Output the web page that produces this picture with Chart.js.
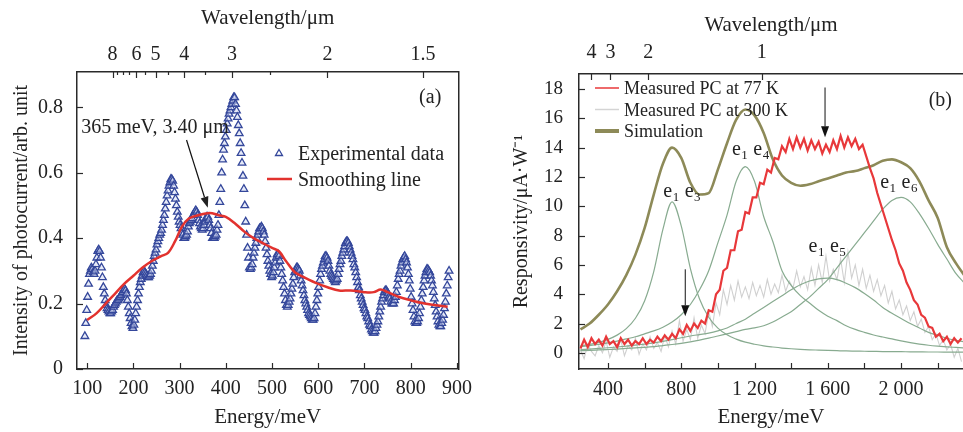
<!DOCTYPE html>
<html>
<head>
<meta charset="utf-8">
<script src="https://cdn.jsdelivr.net/npm/chart.js@4.4.1/dist/chart.umd.min.js"></script>
<style>
html, body { margin: 0; padding: 0; background: #fff; }
#wrap { position: relative; width: 963px; height: 432px; overflow: hidden; }
canvas { position: absolute; top: 0; }
#chartA { left: 0; }
#chartB { left: 480px; }
</style>
</head>
<body>
<div id="wrap">
  <canvas id="chartA" width="480" height="432"></canvas>
  <canvas id="chartB" width="483" height="432"></canvas>
</div>
<script>
// ---- panel (a) data: measured points every 2 meV ----
const expEnergy = [
  95,97,99,101,103,105,107,109,111,113, 115,117,119,121,123,125,127,129,131,133,
  135,137,139,141,143,145,147,149,151,153, 155,157,159,161,163,165,167,169,171,173,
  175,177,179,181,183,185,187,189,191,193, 195,197,199,201,203,205,207,209,211,213,
  215,217,219,221,223,225,227,229,231,233, 235,237,239,241,243,245,247,249,251,253,
  255,257,259,261,263,265,267,269,271,273, 275,277,279,281,283,285,287,289,291,293,
  295,297,299,301,303,305,307,309,311,313, 315,317,319,321,323,325,327,329,331,333,
  335,337,339,341,343,345,347,349,351,353, 355,357,359,361,363,365,367,369,371,373,
  375,377,379,381,383,385,387,389,391,393, 395,397,399,401,403,405,407,409,411,413,
  415,417,419,421,423,425,427,429,431,433, 435,437,439,441,443,445,447,449,451,453,
  455,457,459,461,463,465,467,469,471,473, 475,477,479,481,483,485,487,489,491,493,
  495,497,499,501,503,505,507,509,511,513, 515,517,519,521,523,525,527,529,531,533,
  535,537,539,541,543,545,547,549,551,553, 555,557,559,561,563,565,567,569,571,573,
  575,577,579,581,583,585,587,589,591,593, 595,597,599,601,603,605,607,609,611,613,
  615,617,619,621,623,625,627,629,631,633, 635,637,639,641,643,645,647,649,651,653,
  655,657,659,661,663,665,667,669,671,673, 675,677,679,681,683,685,687,689,691,693,
  695,697,699,701,703,705,707,709,711,713, 715,717,719,721,723,725,727,729,731,733,
  735,737,739,741,743,745,747,749,751,753, 755,757,759,761,763,765,767,769,771,773,
  775,777,779,781,783,785,787,789,791,793, 795,797,799,801,803,805,807,809,811,813,
  815,817,819,821,823,825,827,829,831,833, 835,837,839,841,843,845,847,849,851,853,
  855,857,859,861,863,865,867,869,871,873, 875,877,879,881,883];
const expIntensity = [
  0.10,0.14,0.18,0.22,0.26,0.29,0.30,0.31,0.305,0.295, 0.29,0.30,0.32,0.34,0.36,0.365,0.36,0.34,0.31,0.28,
  0.25,0.23,0.21,0.195,0.185,0.18,0.175,0.17,0.17,0.175, 0.18,0.19,0.195,0.20,0.205,0.21,0.21,0.215,0.22,0.225,
  0.23,0.235,0.24,0.245,0.24,0.23,0.21,0.19,0.17,0.155, 0.14,0.13,0.125,0.135,0.15,0.17,0.19,0.21,0.23,0.25,
  0.265,0.275,0.285,0.295,0.30,0.295,0.29,0.285,0.28,0.28, 0.285,0.29,0.30,0.315,0.33,0.345,0.355,0.365,0.38,0.39,
  0.40,0.41,0.415,0.425,0.44,0.455,0.47,0.49,0.51,0.53, 0.545,0.56,0.57,0.58,0.58,0.575,0.56,0.54,0.52,0.50,
  0.48,0.465,0.45,0.44,0.43,0.415,0.41,0.40,0.40,0.405, 0.41,0.42,0.435,0.445,0.45,0.455,0.46,0.47,0.47,0.48,
  0.485,0.48,0.47,0.455,0.445,0.435,0.43,0.425,0.43,0.44, 0.45,0.46,0.465,0.465,0.455,0.44,0.43,0.415,0.40,0.40,
  0.40,0.405,0.41,0.425,0.44,0.47,0.51,0.55,0.60,0.64, 0.67,0.69,0.71,0.73,0.75,0.765,0.78,0.79,0.80,0.81,
  0.82,0.83,0.83,0.81,0.79,0.77,0.745,0.72,0.69,0.66, 0.63,0.59,0.55,0.50,0.45,0.41,0.37,0.34,0.31,0.305,
  0.31,0.32,0.34,0.355,0.37,0.385,0.40,0.41,0.42,0.43, 0.43,0.435,0.43,0.42,0.41,0.39,0.37,0.35,0.33,0.315,
  0.30,0.29,0.28,0.285,0.295,0.31,0.325,0.34,0.35,0.35, 0.345,0.33,0.31,0.29,0.27,0.25,0.23,0.21,0.195,0.19,
  0.195,0.205,0.215,0.23,0.245,0.26,0.28,0.295,0.30,0.31, 0.31,0.305,0.30,0.285,0.27,0.255,0.24,0.225,0.21,0.20,
  0.19,0.18,0.17,0.165,0.16,0.155,0.15,0.15,0.155,0.17, 0.19,0.21,0.23,0.25,0.27,0.29,0.305,0.315,0.325,0.335,
  0.345,0.345,0.34,0.33,0.315,0.30,0.29,0.285,0.28,0.275, 0.27,0.265,0.27,0.275,0.29,0.305,0.32,0.33,0.345,0.355,
  0.365,0.375,0.385,0.39,0.39,0.385,0.375,0.365,0.355,0.345, 0.335,0.32,0.31,0.295,0.28,0.265,0.25,0.24,0.225,0.215,
  0.205,0.195,0.185,0.18,0.17,0.16,0.155,0.145,0.135,0.13, 0.12,0.115,0.11,0.11,0.115,0.125,0.135,0.145,0.16,0.175,
  0.19,0.205,0.215,0.225,0.235,0.24,0.24,0.235,0.23,0.22, 0.215,0.205,0.20,0.20,0.20,0.21,0.22,0.235,0.255,0.275,
  0.29,0.30,0.315,0.325,0.335,0.34,0.345,0.335,0.325,0.31, 0.29,0.27,0.245,0.22,0.20,0.18,0.16,0.145,0.14,0.14,
  0.145,0.155,0.17,0.19,0.21,0.23,0.25,0.27,0.285,0.295, 0.305,0.305,0.30,0.295,0.285,0.27,0.255,0.235,0.215,0.195,
  0.175,0.16,0.145,0.135,0.13,0.13,0.14,0.15,0.165,0.185, 0.205,0.23,0.255,0.28,0.30];
const smoothEnergy = [100,120,140,160,180,200,220,240,260,275,290,305,320,340,365,385,400,420,440,460,
  480,500,515,530,550,570,600,620,645,670,700,720,735,750,775,800,830,855,880];
const smoothIntensity = [0.15,0.17,0.20,0.23,0.26,0.285,0.31,0.33,0.345,0.355,0.39,0.435,0.46,0.47,0.477,0.47,0.465,0.445,0.42,0.40,
  0.385,0.37,0.36,0.33,0.295,0.28,0.26,0.25,0.24,0.24,0.235,0.235,0.243,0.235,0.22,0.21,0.20,0.195,0.19];
const energyTicksA = [100,200,300,400,500,600,700,800,900];
const intensityTicks = [0,0.2,0.4,0.6,0.8];
const wavelengthTicksA = [8,7.5,7,6.5,6,5.5,5,4.5,4,3.5,3,2.5,2,1.5];
const wavelengthLabelsA = [8,6,5,4,3,2,1.5];

// ---- panel (b) data ----
const pcEnergy = [250,270,290,310,330,350,370,390,410,430,450,470,490,510,530,550,570,590,610,630,
  650,670,690,710,730,750,770,790,810,830,850,870,890,910,930,950,970,990,1010,1030,
  1050,1070,1090,1110,1130,1150,1170,1190,1210,1230,1250,1270,1290,1310,1330,1350,1370,1390,1410,1430,
  1450,1470,1490,1510,1530,1550,1570,1590,1610,1630,1650,1670,1690,1710,1730,1750,1770,1790,1810,1830,
  1850,1870,1890,1910,1930,1950,1970,1990,2010,2030,2050,2070,2090,2110,2130,2150,2170,2190,2210,2230,
  2250,2270,2290,2310,2330];
const pc77 = [0.3,0.9,0.4,1.0,0.6,0.9,0.5,1.1,0.6,0.8,0.4,1.0,0.6,0.9,0.5,0.8,0.6,1.0,0.6,0.9,
  0.7,1.1,0.8,1.2,0.9,1.3,1.0,1.6,1.3,1.9,1.5,2.0,1.7,2.2,2.0,2.9,2.8,4.0,4.3,5.6,
  5.8,7.0,7.0,8.3,8.4,9.6,9.5,10.6,10.6,11.6,11.5,12.5,12.3,13.3,13.2,14.1,13.7,14.6,13.9,14.7,
  14.0,14.6,13.8,14.5,13.9,14.4,13.6,14.2,13.7,14.5,13.9,14.8,14.0,14.7,14.1,14.6,13.9,14.2,13.4,12.6,
  11.9,10.9,10.1,9.3,8.5,7.7,7.0,6.1,5.6,4.8,4.3,3.6,3.3,2.6,2.4,1.8,1.7,1.1,1.3,0.8,
  1.1,0.6,1.0,0.7,1.0];
const pc300 = [0.2,-0.4,0.6,0.1,-0.2,0.5,0.0,0.8,-0.3,0.4,0.1,0.9,-0.2,0.5,0.2,1.0,-0.1,0.6,0.2,1.1,
  0.3,0.7,0.1,1.2,0.4,1.5,0.6,2.2,0.8,1.6,0.9,2.4,1.0,1.9,1.3,2.8,1.8,3.4,2.6,4.3,
  3.3,4.6,3.6,4.9,3.8,4.5,3.7,4.8,3.9,4.6,3.8,5.0,4.0,4.7,4.1,5.3,4.2,4.9,4.4,5.6,
  4.5,5.2,4.3,5.8,4.6,6.0,4.8,6.6,4.9,5.7,5.0,6.4,4.8,6.9,5.1,6.0,4.6,5.7,4.4,5.3,
  4.2,5.0,3.9,4.6,3.4,4.2,3.0,3.6,2.6,3.2,2.2,2.8,1.8,2.3,1.4,1.8,0.9,1.3,0.5,0.9,
  0.2,0.6,-0.3,0.3,-0.6];
const simEnergy = [250,300,350,400,450,500,550,600,650,700,750,800,850,900,950,1000,1050,1100,1150,1200,
  1250,1300,1350,1400,1450,1500,1550,1600,1650,1700,1750,1800,1850,1900,1950,2000,2050,2100,2150,2200,
  2250,2300,2350];
const simulation = [1.6,2.0,2.6,3.3,4.2,5.3,6.7,8.5,10.8,12.9,14.0,13.3,11.6,10.8,10.9,12.5,14.3,15.9,16.6,16.2,
  15.0,13.2,12.1,11.6,11.4,11.5,11.7,11.9,12.1,12.3,12.4,12.6,12.8,13.1,13.2,13.0,12.6,11.7,10.4,9.2,
  7.2,6.1,5.2];
const e1e3 = [0.47,0.58,0.72,0.92,1.21,1.65,2.36,3.54,5.54,8.42,10.3,8.66,5.75,3.67,2.43,1.69,1.23,0.94,0.73,0.59,
  0.48,0.40,0.33,0.28,0.24,0.21,0.19,0.17,0.15,0.13,0.12,0.11,0.10,0.09,0.085,0.08,0.07,0.065,0.06,0.06,
  0.055,0.05,0.045];
const e1e4 = [0.42,0.5,0.58,0.68,0.8,0.95,1.1,1.3,1.5,1.75,2.1,2.6,3.3,4.3,5.6,7.5,9.4,11.7,12.7,11.7,
  9.3,7.6,5.6,4.6,3.9,3.4,2.9,2.5,2.2,1.85,1.6,1.4,1.22,1.08,0.95,0.82,0.7,0.6,0.52,0.46,
  0.41,0.37,0.33];
const e1e5 = [0.22,0.26,0.3,0.35,0.4,0.46,0.53,0.6,0.68,0.78,0.9,1.03,1.15,1.25,1.35,1.5,1.7,2.0,2.3,2.7,
  3.1,3.5,3.9,4.3,4.65,4.9,5.05,5.1,5.0,4.75,4.45,4.05,3.6,3.1,2.7,2.35,2.0,1.7,1.4,1.2,
  1.0,0.85,0.75];
const e1e6 = [0.15,0.17,0.2,0.23,0.26,0.3,0.34,0.38,0.43,0.5,0.57,0.65,0.75,0.87,1.0,1.15,1.3,1.45,1.6,1.7,
  1.85,2.1,2.45,2.8,3.3,3.8,4.4,5.0,5.8,6.6,7.4,8.2,9.0,9.8,10.4,10.6,10.3,9.5,8.5,7.4,
  6.4,5.4,4.7];
const energyTicksB = [400,600,800,1000,1200,1400,1600,1800,2000,2200];
const respTicks = [0,2,4,6,8,10,12,14,16,18];
const wavelengthTicksB = [4,3,2,1];

const serif = '"Liberation Serif", "Times New Roman", serif';
const textColor = '#222';
const axisColor = '#2a2a2a';
const hc = 1239.84; // meV * um

function pts(xs, ys) { return xs.map((x, i) => ({ x: x, y: ys[i] })); }
function setTicks(vals) { return scale => { scale.ticks = vals.map(v => ({ value: v })); }; }
function fmtThousands(v) {
  if (v < 1000) return String(v);
  return Math.floor(v / 1000) + ' ' + String(v % 1000).padStart(3, '0');
}
const axisBorder = { display: true, color: axisColor, width: 1.5 };

// inward tick marks, drawn on top of everything
function drawTicks(chart) {
  const ctx = chart.ctx;
  const a = chart.chartArea;
  ctx.save();
  ctx.globalAlpha = 1;
  ctx.setLineDash([]);
  ctx.strokeStyle = axisColor;
  ctx.lineWidth = 1.2;
  ['x', 'x2', 'y'].forEach(id => {
    const s = chart.scales[id];
    const major = s.options.tickLen || 6;
    const minor = s.options.minorLen || major;
    s.ticks.forEach(t => {
      const len = t.label === '' ? minor : major;
      const p = Math.round(s.getPixelForValue(t.value)) + 0.5;
      ctx.beginPath();
      if (id === 'x') { ctx.moveTo(p, a.bottom); ctx.lineTo(p, a.bottom - len); }
      else if (id === 'x2') { ctx.moveTo(p, a.top); ctx.lineTo(p, a.top + len); }
      else { ctx.moveTo(a.left, p); ctx.lineTo(a.left + len, p); }
      ctx.stroke();
    });
  });
  ctx.restore();
}

function arrow(ctx, x1, y1, x2, y2) {
  const ang = Math.atan2(y2 - y1, x2 - x1);
  const L = 11, W = 4;
  ctx.beginPath();
  ctx.moveTo(x1, y1);
  ctx.lineTo(x2 - L * Math.cos(ang), y2 - L * Math.sin(ang));
  ctx.stroke();
  ctx.beginPath();
  ctx.moveTo(x2, y2);
  ctx.lineTo(x2 - L * Math.cos(ang) + W * Math.sin(ang), y2 - L * Math.sin(ang) - W * Math.cos(ang));
  ctx.lineTo(x2 - L * Math.cos(ang) - W * Math.sin(ang), y2 - L * Math.sin(ang) + W * Math.cos(ang));
  ctx.closePath();
  ctx.fill();
}

function eLabel(ctx, x, y, s1, s2) {
  let cx = x;
  [['e', s1], ['e', s2]].forEach((pair, k) => {
    ctx.font = '20px ' + serif;
    ctx.fillText(pair[0], cx, y);
    cx += ctx.measureText(pair[0]).width;
    ctx.font = '13px ' + serif;
    ctx.fillText(pair[1], cx + 0.5, y + 4);
    cx += ctx.measureText(pair[1]).width + (k === 0 ? 6 : 0);
  });
}

const annotA = {
  id: 'annotA',
  afterDraw(chart) {
    const { ctx, chartArea: a, scales: { x, y } } = chart;
    ctx.save();
    ctx.fillStyle = textColor;
    ctx.strokeStyle = '#111';
    ctx.lineWidth = 1.2;
    ctx.textBaseline = 'alphabetic';
    ctx.font = '20px ' + serif;
    ctx.fillText('365 meV, 3.40 \u03bcm', x.getPixelForValue(87), y.getPixelForValue(0.722));
    arrow(ctx, x.getPixelForValue(315), y.getPixelForValue(0.70), x.getPixelForValue(361), y.getPixelForValue(0.493));
    ctx.textAlign = 'right';
    ctx.fillText('(a)', a.right - 17, a.top + 31);
    ctx.textAlign = 'left';
    // legend
    const lx = a.left + 202, ly = a.top + 81;
    ctx.strokeStyle = '#34479b';
    ctx.lineWidth = 1.3;
    ctx.beginPath();
    ctx.moveTo(lx, ly - 3.5); ctx.lineTo(lx + 3.5, ly + 2.5); ctx.lineTo(lx - 3.5, ly + 2.5); ctx.closePath();
    ctx.stroke();
    ctx.fillText('Experimental data', a.left + 221, ly + 7);
    ctx.strokeStyle = '#e2322e';
    ctx.lineWidth = 2.5;
    ctx.beginPath();
    ctx.moveTo(a.left + 190, ly + 26); ctx.lineTo(a.left + 215, ly + 26);
    ctx.stroke();
    ctx.fillText('Smoothing line', a.left + 221, ly + 33);
    ctx.restore();
    drawTicks(chart);
  }
};

const annotB = {
  id: 'annotB',
  afterDraw(chart) {
    const { ctx, chartArea: a, scales: { x, y } } = chart;
    ctx.save();
    ctx.fillStyle = textColor;
    ctx.textBaseline = 'alphabetic';
    eLabel(ctx, x.getPixelForValue(702), y.getPixelForValue(10.63), '1', '3');
    eLabel(ctx, x.getPixelForValue(1077), y.getPixelForValue(13.5), '1', '4');
    eLabel(ctx, x.getPixelForValue(1495), y.getPixelForValue(6.87), '1', '5');
    eLabel(ctx, x.getPixelForValue(1886), y.getPixelForValue(11.24), '1', '6');
    ctx.strokeStyle = '#111';
    ctx.fillStyle = '#111';
    ctx.lineWidth = 1;
    arrow(ctx, x.getPixelForValue(1585), y.getPixelForValue(18.1), x.getPixelForValue(1585), y.getPixelForValue(14.7));
    arrow(ctx, x.getPixelForValue(822), y.getPixelForValue(5.7), x.getPixelForValue(822), y.getPixelForValue(2.5));
    ctx.fillStyle = textColor;
    ctx.font = '20px ' + serif;
    ctx.textAlign = 'right';
    ctx.fillText('(b)', a.right - 11, a.top + 32);
    ctx.textAlign = 'left';
    // legend
    const items = [
      ['Measured PC at 77 K', '#e8383a', 1.5],
      ['Measured PC at 300 K', '#d4d4d4', 1.5],
      ['Simulation', '#8d8a58', 4]
    ];
    ctx.font = '18px ' + serif;
    items.forEach((it, i) => {
      const yy = a.top + 14 + i * 21.5;
      ctx.strokeStyle = it[1];
      ctx.lineWidth = it[2];
      ctx.beginPath();
      ctx.moveTo(a.left + 16, yy); ctx.lineTo(a.left + 40, yy);
      ctx.stroke();
      ctx.fillText(it[0], a.left + 45, yy + 6);
    });
    ctx.restore();
    drawTicks(chart);
  }
};

const tickFont = { family: serif, size: 20 };
const titleFont = { family: serif, size: 21 };

// ---- panel (a) ----
new Chart(document.getElementById('chartA'), {
  type: 'scatter',
  data: {
    datasets: [
      {
        type: 'line',
        label: 'Smoothing line',
        data: pts(smoothEnergy, smoothIntensity),
        borderColor: '#e2322e',
        borderWidth: 2.5,
        pointRadius: 0,
        tension: 0.35,
        order: 0
      },
      {
        label: 'Experimental data',
        data: pts(expEnergy, expIntensity),
        pointStyle: 'triangle',
        pointRadius: 4.4,
        borderWidth: 1.3,
        borderColor: '#34479b',
        backgroundColor: 'rgba(205,214,242,0.5)',
        order: 1
      }
    ]
  },
  options: {
    responsive: false,
    animation: false,
    layout: { padding: { right: 10 } },
    plugins: { legend: { display: false }, tooltip: { enabled: false } },
    scales: {
      x: {
        type: 'linear', position: 'bottom', min: 78, max: 903,
        afterBuildTicks: setTicks(energyTicksA),
        afterFit: s => { s.height = 63; },
        grid: { display: false, drawTicks: false }, border: axisBorder,
        ticks: { font: tickFont, color: textColor, padding: 8, maxRotation: 0, autoSkip: false },
        title: { display: true, text: 'Energy/meV', font: titleFont, color: textColor, padding: { top: 0, bottom: 2 } }
      },
      x2: {
        type: 'linear', position: 'top', min: 78, max: 903,
        tickLen: 6, minorLen: 3,
        afterBuildTicks: setTicks(wavelengthTicksA.map(l => hc / l)),
        afterFit: s => { s.height = 72; },
        grid: { display: false, drawTicks: false }, border: axisBorder,
        ticks: {
          font: tickFont, color: textColor, padding: 5, maxRotation: 0, autoSkip: false,
          callback: v => {
            const l = Math.round(hc / v * 10) / 10;
            return wavelengthLabelsA.includes(l) ? String(l) : '';
          }
        },
        title: { display: true, text: 'Wavelength/\u03bcm', font: titleFont, color: textColor, padding: { top: 6, bottom: 0 } }
      },
      y: {
        type: 'linear', position: 'left', min: 0, max: 0.908,
        afterBuildTicks: setTicks(intensityTicks),
        afterFit: s => { s.width = 77; },
        grid: { display: false, drawTicks: false }, border: axisBorder,
        ticks: { font: tickFont, color: textColor, padding: 14, callback: v => String(v) },
        title: { display: true, text: 'Intensity of photocurrent/arb. unit', font: { family: serif, size: 20 }, color: textColor, padding: { top: 10, bottom: 0 } }
      },
      yR: {
        type: 'linear', position: 'right', min: 0, max: 1,
        afterBuildTicks: s => { s.ticks = []; },
        afterFit: s => { s.width = 0; },
        grid: { display: false, drawTicks: false }, border: axisBorder,
        ticks: { display: false }
      }
    }
  },
  plugins: [annotA]
});

// ---- panel (b) ----
const greenLine = '#88ab90';
function component(label, vals) {
  return {
    label: label, data: pts(simEnergy, vals), borderColor: greenLine, borderWidth: 1.2,
    pointRadius: 0, cubicInterpolationMode: 'monotone', order: 2
  };
}
new Chart(document.getElementById('chartB'), {
  type: 'line',
  data: {
    datasets: [
      { label: 'Measured PC at 77 K', data: pts(pcEnergy, pc77), borderColor: '#e8383a', borderWidth: 2.2, pointRadius: 0, order: 0 },
      { label: 'Measured PC at 300 K', data: pts(pcEnergy, pc300), borderColor: '#d0d0d0', borderWidth: 1.1, pointRadius: 0, order: 4 },
      { label: 'Simulation', data: pts(simEnergy, simulation), borderColor: '#8d8a58', borderWidth: 2.6, pointRadius: 0, cubicInterpolationMode: 'monotone', order: 1 },
      component('e1e3', e1e3),
      component('e1e4', e1e4),
      component('e1e5', e1e5),
      component('e1e6', e1e6)
    ]
  },
  options: {
    responsive: false,
    animation: false,
    layout: { padding: { right: 0 } },
    plugins: { legend: { display: false }, tooltip: { enabled: false } },
    scales: {
      x: {
        type: 'linear', position: 'bottom', min: 242, max: 2338,
        afterBuildTicks: setTicks(energyTicksB),
        afterFit: s => { s.height = 63; },
        grid: { display: false, drawTicks: false }, border: axisBorder,
        ticks: {
          font: tickFont, color: textColor, padding: 9, maxRotation: 0, autoSkip: false,
          callback: v => (v % 400 === 0 ? fmtThousands(v) : ' ')
        },
        title: { display: true, text: 'Energy/meV', font: titleFont, color: textColor, padding: { top: 0, bottom: 2 } }
      },
      x2: {
        type: 'linear', position: 'top', min: 242, max: 2338,
        afterBuildTicks: setTicks(wavelengthTicksB.map(l => hc / l)),
        afterFit: s => { s.height = 74; },
        grid: { display: false, drawTicks: false }, border: axisBorder,
        ticks: {
          font: tickFont, color: textColor, padding: 9, maxRotation: 0, autoSkip: false,
          callback: v => String(Math.round(hc / v))
        },
        title: { display: true, text: 'Wavelength/\u03bcm', font: titleFont, color: textColor, padding: { top: 13, bottom: 0 } }
      },
      y: {
        type: 'linear', position: 'left', min: -1.1, max: 19.02,
        afterBuildTicks: setTicks(respTicks),
        afterFit: s => { s.width = 99; },
        grid: { display: false, drawTicks: false }, border: axisBorder,
        ticks: { font: { family: serif, size: 19 }, color: textColor, padding: 16 },
        title: { display: true, text: 'Responsivity/\u03bcA\u00b7W\u207b\u00b9', font: { family: serif, size: 20 }, color: textColor, padding: { top: 30, bottom: 0 } }
      }
    }
  },
  plugins: [annotB]
});
</script>
</body>
</html>
